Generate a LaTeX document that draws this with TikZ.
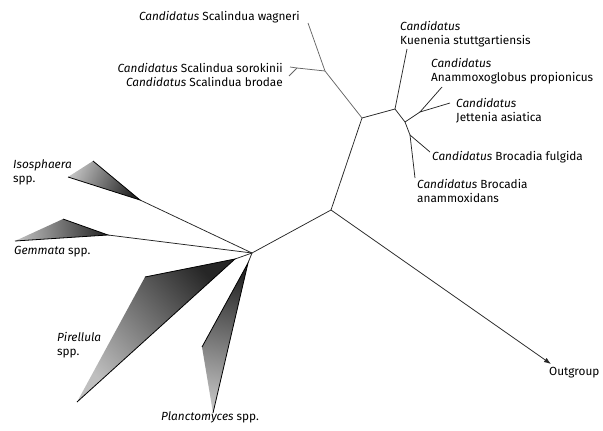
\documentclass[tikz,border=0pt]{standalone}
\usepackage{fontspec}
\setmainfont{Fira Sans}
\usetikzlibrary{arrows.meta}
\begin{document}
\begin{tikzpicture}[x=1pt,y=-1pt,
  branch/.style={line width=0.75pt,draw=black!85},
  light branch/.style={line width=0.75pt,draw=black!60},
  clade/.style={shading=axis,top color=black!85,bottom color=black!25},
  edge/.style={line width=0.8pt,draw=black},
  lab/.style={inner sep=0pt,font=\fontsize{11.8}{14.5}\selectfont,align=left}]
\useasboundingbox (0,0) rectangle (603,431);
% branch points
\coordinate (hub) at (252,253);
\coordinate (c) at (331,210);
\coordinate (u) at (362,118);
\coordinate (s) at (325,71);
\coordinate (sw) at (308,23);
\coordinate (sf) at (297,68);
\coordinate (ss) at (290,67);
\coordinate (sb) at (289,76);
\coordinate (k) at (395,109);
\coordinate (kt) at (407,49);
\coordinate (n2) at (405,122);
\coordinate (aj) at (420,112);
\coordinate (at) at (442,87);
\coordinate (jt) at (450,103);
\coordinate (bn) at (410,135);
\coordinate (bft) at (430,152);
\coordinate (bat) at (415,178);
\coordinate (og) at (551,364);
% clade triangle vertices
\coordinate (isoA) at (140,200); \coordinate (isoB) at (93,161); \coordinate (isoC) at (68,177);
\coordinate (gemA) at (108,235); \coordinate (gemB) at (63,219); \coordinate (gemC) at (15,241);
\coordinate (pirA) at (235,259); \coordinate (pirB) at (145,277); \coordinate (pirC) at (77,402);
\coordinate (plaA) at (248,263); \coordinate (plaB) at (202,347); \coordinate (plaC) at (213,413);
% shaded clades
\path[clade,shading angle=-115] (isoA) -- (isoB) -- (isoC) -- cycle;
\draw[edge] (isoB) -- (isoA) -- (isoC);
\path[clade,shading angle=-86] (gemA) -- (gemB) -- (gemC) -- cycle;
\draw[edge] (gemB) -- (gemA) -- (gemC);
\path[clade,shading angle=-48] (pirA) -- (pirB) -- (pirC) -- cycle;
\draw[edge] (pirB) -- (pirA) -- (pirC);
\path[clade,shading angle=-13] (plaA) -- (plaB) -- (plaC) -- cycle;
\draw[edge] (plaB) -- (plaA) -- (plaC);
% tree
\draw[branch] (hub) -- (isoA);
\draw[branch] (hub) -- (gemA);
\draw[branch] (hub) -- (pirA);
\draw[branch] (hub) -- (plaA);
\draw[branch] (hub) -- (c);
\draw[branch] (c) -- (u);
\draw[branch,-{Latex[length=7pt,width=5pt]}] (c) -- (og);
\draw[light branch] (u) -- (s);
\draw[light branch] (s) -- (sw);
\draw[light branch] (s) -- (sf);
\draw[light branch] (sf) -- (ss);
\draw[light branch] (sf) -- (sb);
\draw[branch] (u) -- (k);
\draw[branch] (k) -- (kt);
\draw[branch] (k) -- (n2);
\draw[branch] (n2) -- (aj);
\draw[branch] (aj) -- (at);
\draw[branch] (aj) -- (jt);
\draw[branch] (n2) -- (bn);
\draw[branch] (bn) -- (bft);
\draw[branch] (bn) -- (bat);
% labels
\node[lab,anchor=east] (lwag) at (300,17) {\textit{Candidatus} Scalindua wagneri};
\node[lab,anchor=east] (lsor) at (283,68) {\textit{Candidatus} Scalindua sorokinii};
\node[lab,anchor=east] (lbro) at (283,82) {\textit{Candidatus} Scalindua brodae};
\node[lab,anchor=west] (lkue) at (400,34) {\textit{Candidatus}\\Kuenenia stuttgartiensis};
\node[lab,anchor=west] (lana) at (431,71) {\textit{Candidatus}\\Anammoxoglobus propionicus};
\node[lab,anchor=west] (ljet) at (456,110.5) {\textit{Candidatus}\\Jettenia asiatica};
\node[lab,anchor=west] (lful) at (432,157) {\textit{Candidatus} Brocadia fulgida};
\node[lab,anchor=west] (lamx) at (417,191) {\textit{Candidatus} Brocadia\\anammoxidans};
\node[lab,anchor=west] (liso) at (13,172.5) {\textit{Isosphaera}\\spp.};
\node[lab,anchor=west] (lgem) at (14,252) {\textit{Gemmata} spp.};
\node[lab,anchor=west] (lpir) at (57,345) {\textit{Pirellula}\\spp.};
\node[lab,anchor=west] (lpla) at (161,417) {\textit{Planctomyces} spp.};
\node[lab,anchor=west] (lout) at (549,373) {Outgroup};
\end{tikzpicture}
\end{document}
